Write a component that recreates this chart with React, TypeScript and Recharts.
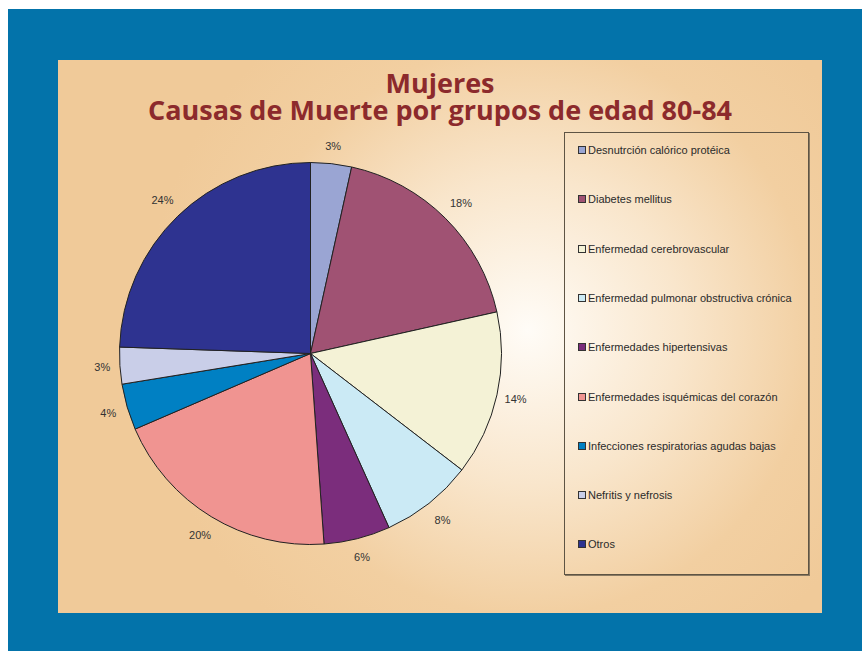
import React from "react"
import { PieChart, Pie, Cell, Legend } from "recharts"

const causas = [
  "Desnutrción calórico protéica",
  "Diabetes mellitus",
  "Enfermedad cerebrovascular",
  "Enfermedad pulmonar obstructiva crónica",
  "Enfermedades hipertensivas",
  "Enfermedades isquémicas del corazón",
  "Infecciones respiratorias agudas bajas",
  "Nefritis y nefrosis",
  "Otros",
]

// porcentajes estimados desde el gráfico
const valores = [3.45, 18.0, 13.9, 7.8, 5.6, 19.6, 3.9, 3.1, 24.4]

const colores = [
  "#9AA5D3",
  "#A05273",
  "#F4F2D6",
  "#CBEAF5",
  "#7B2D7C",
  "#F09491",
  "#0080C3",
  "#C9CEE8",
  "#2E3390",
]

const data = causas.map((name, i) => ({ name, value: valores[i] }))

const RAD = Math.PI / 180

function renderLabel(props: any) {
  const { cx, cy, midAngle, outerRadius, percent } = props
  // etiquetas en diagonal quedan un poco mas lejos (caja del texto)
  const r = outerRadius + 17 + 5 * Math.abs(Math.sin(2 * midAngle * RAD))
  const x = cx + r * Math.cos(-midAngle * RAD)
  const y = cy + r * Math.sin(-midAngle * RAD)
  return (
    <text
      x={x}
      y={y}
      fill="#333"
      fontSize={11}
      fontFamily="'Liberation Sans', Arial, sans-serif"
      textAnchor="middle"
      dominantBaseline="central"
    >
      {`${Math.round(percent * 100)}%`}
    </text>
  )
}

function LegendBox() {
  return (
    <div
      style={{
        position: "relative",
        width: 245,
        height: 443,
        border: "1px solid #5e5444",
        boxShadow: "1px 1px 0 #8a7a62",
        boxSizing: "border-box",
        fontFamily: "'Liberation Sans', Arial, sans-serif",
        fontSize: 11,
        color: "#2a2a2a",
      }}
    >
      {causas.map((c, i) => (
        <div
          key={c}
          style={{
            position: "absolute",
            left: 13,
            top: 17 + i * 49.3 - 7,
            height: 14,
            display: "flex",
            alignItems: "center",
            whiteSpace: "nowrap",
          }}
        >
          <span
            style={{
              display: "inline-block",
              width: 6,
              height: 6,
              background: colores[i],
              border: "1px solid #333",
              marginRight: 2,
            }}
          />
          {c}
        </div>
      ))}
    </div>
  )
}

export default function App() {
  return (
    <div style={{ position: "absolute", left: 0, top: 0, width: 862, height: 651, background: "#fff" }}>
      <div style={{ position: "absolute", left: 8, top: 9, width: 854, height: 642, background: "#0373AA" }} />
      <div
        style={{
          position: "absolute",
          left: 58,
          top: 60,
          width: 764,
          height: 553,
          background:
            "radial-gradient(circle at 470px 270px, #fffcf7 0%, #f9e6cc 28%, #f2cfa1 52%, #f0ca99 70%)",
        }}
      >
        <div
          style={{
            position: "absolute",
            left: 0,
            top: 9,
            width: 764,
            textAlign: "center",
            fontFamily: "'Open Sans', sans-serif",
            fontWeight: 700,
            fontSize: 27,
            lineHeight: "27px",
            color: "#8C2A2C",
          }}
        >
          <div>Mujeres</div>
          <div>Causas de Muerte por grupos de edad 80-84</div>
        </div>
        <PieChart
          width={764}
          height={553}
          margin={{ top: 0, right: 0, bottom: 0, left: 0 }}
          style={{ position: "absolute", left: 0, top: 0 }}
        >
          <Pie
            data={data}
            dataKey="value"
            nameKey="name"
            cx={252.5}
            cy={293.5}
            outerRadius={191}
            startAngle={90}
            endAngle={-270}
            stroke="#222"
            strokeWidth={1}
            label={renderLabel}
            labelLine={false}
            isAnimationActive={false}
          >
            {data.map((d, i) => (
              <Cell key={d.name} fill={colores[i]} />
            ))}
          </Pie>
          <Legend
            content={() => <LegendBox />}
            wrapperStyle={{ position: "absolute", left: 506, top: 72, width: 245, height: 443 }}
          />
        </PieChart>
      </div>
    </div>
  )
}
